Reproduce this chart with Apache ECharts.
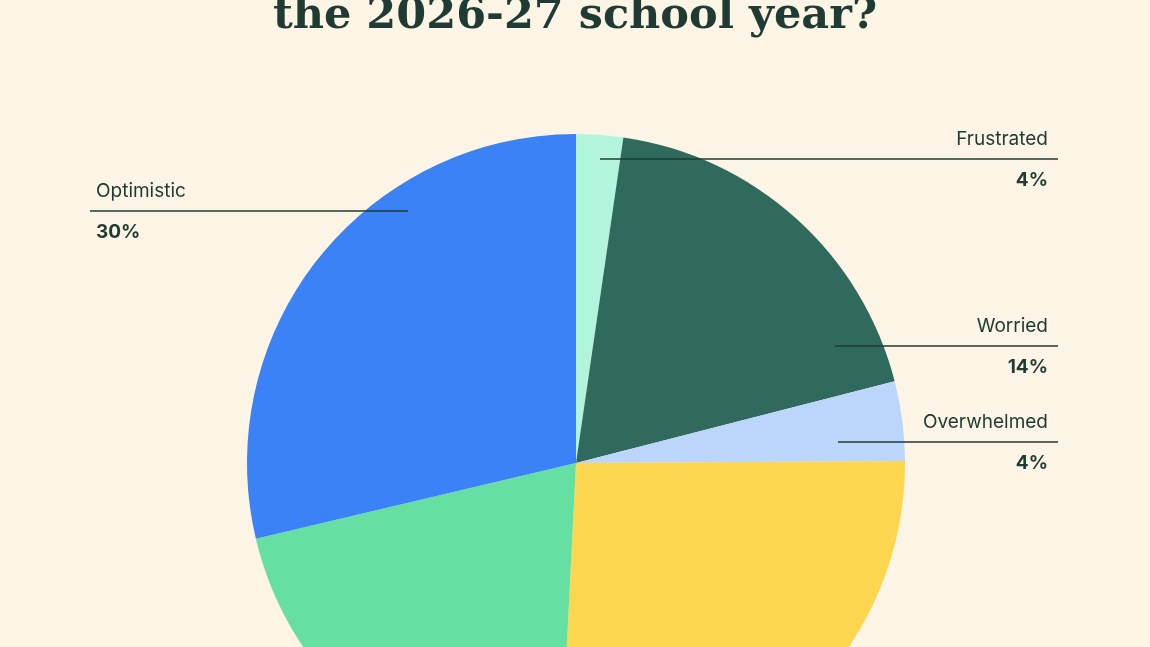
<!DOCTYPE html><html><head><meta charset="utf-8">
<script src="https://cdn.jsdelivr.net/npm/echarts@6/dist/echarts.min.js"></script>
<style>html,body{margin:0;padding:0;background:#fcf4e4}#c{width:1150px;height:647px}</style></head><body><div id="c"></div>
<script>
const categories=['Frustrated','Worried','Overwhelmed','Hopeful','Excited','Optimistic'];
const values=[2.3,18.7,3.9,25.9,20.5,28.7];
const labelText=['4%','14%','4%','','','30%'];
const colors=['#b3f5dc','#2f6a5c','#bcd6fb','#fdd64f','#66dfa3','#3b82f6'];
const chart=echarts.init(document.getElementById('c'));
const lineStyle={stroke:'#1f3b33',lineWidth:1.3};
const nameStyle={fill:'#1f3b33',font:'19px "Inter", sans-serif'};
const pctStyle={fill:'#1f3b33',font:'bold 19px "Inter", sans-serif'};
function lbl(name,pct,x1,x2,y,right){
 const tx=right?x2-10:x1+6;const al=right?'right':'left';
 return [{type:'line',shape:{x1:x1,y1:y,x2:x2,y2:y},style:lineStyle,z:10},
 {type:'text',x:tx,y:y-29,style:Object.assign({text:name,align:al},nameStyle),z:10},
 {type:'text',x:tx,y:y+12,style:Object.assign({text:pct,align:al},pctStyle),z:10}];
}
chart.setOption({
 backgroundColor:'#fcf4e4',
 title:{text:'the 2026-27 school year?',left:'center',top:-10,textStyle:{fontFamily:'DejaVu Serif',fontWeight:'bold',fontSize:43,color:'#1f3b33'}},
 series:[{type:'pie',center:[576,463],radius:329,startAngle:90,clockwise:true,label:{show:false},labelLine:{show:false},
  silent:true,data:categories.map((c,i)=>({name:c,value:values[i],itemStyle:{color:colors[i]}}))}],
 graphic:[].concat(
  lbl(categories[0],labelText[0],600,1058,159,true),
  lbl(categories[1],labelText[1],835,1058,346,true),
  lbl(categories[2],labelText[2],838,1058,442,true),
  lbl(categories[5],labelText[5],90,408,211,false))
});
</script></body></html>
